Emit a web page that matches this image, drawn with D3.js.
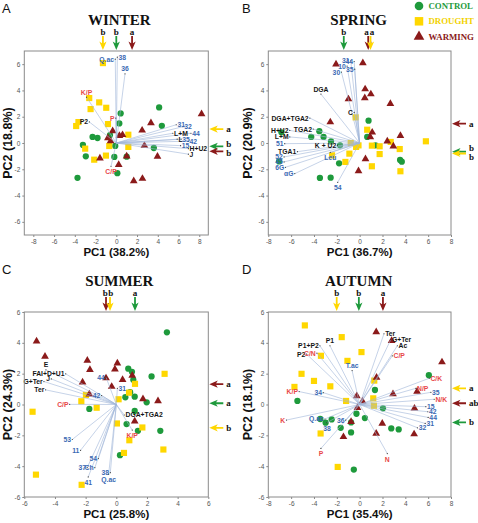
<!DOCTYPE html>
<html><head><meta charset="utf-8">
<script src="https://cdn.jsdelivr.net/npm/d3@7/dist/d3.min.js"></script>
<style>html,body{margin:0;padding:0;background:#fff}svg{display:block}</style>
</head><body><svg id="chart" width="478" height="523"></svg>
<script>
// ---------------- DATA ----------------
const seasons = ["WINTER", "SPRING", "SUMMER", "AUTUMN"];
const panelLetters = ["A", "B", "C", "D"];
const pc1Percent = [38.2, 36.7, 25.8, 35.4];
const pc2Percent = [18.8, 20.9, 24.3, 18.1];
const treatments = ["CONTROL", "DROUGHT", "WARMING"];
const ticksWide = [-8, -6, -4, -2, 0, 2, 4, 6, 8];
const ticksNarrow = [-6, -4, -2, 0, 2, 4, 6];

// WINTER scores [PC1, PC2]
const winterControl = [[0.42,2.25],[0.29,1.49],[-0.61,0.6],[-2.29,0.46],[-1.81,0.38],[-3.22,-0.15],[-0.1,-0.22],[-2.94,-1.01],[-0.19,-1.06],[1.0,-1.04],[0.1,-2.3],[-3.74,-2.65],[4.13,2.71],[4.39,1.31],[3.62,-0.38]];
const winterDrought = [[-1.29,6.08],[-2.61,3.42],[-1.65,3.09],[-2.48,2.58],[-0.97,2.68],[-3.65,1.59],[-3.87,1.29],[-0.8,1.44],[-3.0,-0.43],[-0.68,-0.23],[-1.0,-0.96],[-2.13,-1.27],[1.16,0.63],[1.16,-0.3]];
const winterWarming = [[-0.35,0.91],[0.3,0.55],[0.6,0.62],[-0.81,0.38],[-0.55,0.15],[-1.58,-1.16],[1.0,-1.01],[0.23,-1.65],[8.22,2.2],[3.34,1.52],[2.49,0.96],[2.71,-0.2],[3.97,-1.02],[1.68,-2.89],[2.52,-2.71]];
// SPRING scores
const springControl = [[0.78,1.7],[1.39,-0.18],[0.66,0.46],[-3.53,0.9],[-4.24,0.46],[-3.16,0.46],[-2.51,0.12],[-1.72,-0.18],[-1.8,-1.55],[-3.48,-2.66],[-2.54,-2.64],[-6.85,0.81],[-7.06,-1.4],[3.54,-1.29],[3.69,-1.42]];
const springDrought = [[-0.35,1.95],[0.66,1.01],[1.07,-0.2],[1.75,-0.25],[1.75,-0.84],[1.07,-1.77],[-0.1,-0.18],[-0.31,-0.3],[-0.78,0.0],[-0.9,-0.81],[-1.25,-1.44],[-2.42,-0.94],[3.51,-0.46],[3.57,-2.15],[2.72,0.08],[5.8,0.13]];
const springWarming = [[-2.07,6.0],[0.28,6.08],[0.48,4.1],[0.45,3.42],[0.98,3.72],[-0.98,3.34],[2.69,2.99],[-2.57,1.59],[1.1,0.81],[0.93,0.46],[3.57,0.56],[2.42,0.13],[2.95,-0.25],[0.51,-1.22],[-0.1,-2.13]];
// SUMMER scores
const summerControl = [[3.3,4.68],[0.78,2.32],[1.02,2.12],[1.11,1.6],[2.3,1.82],[1.2,0.51],[0.59,0.47],[1.98,0.14],[1.2,-0.42],[0.67,-1.27],[1.41,-1.71],[2.87,-1.71],[0.24,-3.29],[-1.76,-0.29],[0.9,0.8]];
const summerDrought = [[3.15,1.99],[1.22,1.34],[0.15,0.34],[-1.98,0.62],[-2.28,0.21],[-1.28,-0.21],[-5.46,-0.47],[0.04,-1.23],[1.7,-1.49],[0.85,-2.32],[0.5,-3.14],[3.07,-2.92],[-5.24,-4.55],[-2.26,-5.21],[0.83,0.77]];
const summerWarming = [[-5.2,4.1],[-4.65,3.12],[-1.89,2.86],[-1.72,2.25],[-2.2,1.45],[-1.76,0.66],[0.07,2.68],[-0.09,2.29],[-0.67,1.71],[-0.3,1.16],[0.41,1.6],[1.04,1.88],[1.74,0.36],[2.72,0.23],[1.2,-1.08]];
// AUTUMN scores
const autumnControl = [[-5.45,0.23],[1.34,0.94],[2.04,-0.25],[-0.28,-0.6],[0.46,-0.88],[-2.45,-0.97],[-2.98,-1.18],[-1.66,-1.51],[-0.75,-1.81],[-0.75,-1.16],[2.77,-1.55],[3.42,-1.62],[6.06,1.9],[-0.51,-4.22],[-3.45,-0.94]];
const autumnDrought = [[-4.8,5.13],[-1.57,4.37],[0.16,3.4],[-3.39,3.16],[-1.07,2.83],[-5.09,1.99],[-4.0,1.53],[-5.71,1.14],[-2.57,1.18],[-1.19,0.23],[1.28,1.55],[1.19,0.4],[1.25,-0.08],[-3.42,-1.88],[-1.92,-4.05]];
const autumnWarming = [[1.45,4.7],[2.8,4.13],[7.21,2.75],[1.48,1.75],[2.92,0.68],[5.03,0.84],[4.8,-0.25],[-0.25,0.55],[0.25,0.21],[-0.19,-0.21],[1.98,-1.23],[1.45,-1.88],[-1.42,-2.1],[-0.75,-1.12],[4.77,-1.92]];

// Loadings: [label, PC1, PC2, variable group]  (k = black, b = blue, r = red)
const winterVectors = [["Q.ac",-0.1,6.38,"b"],["38",0.1,6.53,"b"],["36",0.84,5.26,"b"],["K/P",-2.87,3.49,"r"],["P",-0.05,1.9,"r"],["P2",-2.6,1.6,"k"],["C/P",-0.51,-1.77,"r"],["31",5.78,1.39,"b"],["32",6.43,1.24,"b"],["L+M",5.45,0.74,"k"],["44",7.2,0.74,"b"],["L",5.87,0.29,"k"],["35",6.25,0.29,"b"],["42",6.95,0.14,"b"],["15",6.2,-0.2,"b"],["H+U2",6.95,-0.43,"k"],["J",6.95,-0.85,"k"]];
const springVectors = [["31",-0.78,6.25,"b"],["44",-0.48,6.2,"b"],["10",-1.1,5.85,"b"],["35",-0.43,5.62,"b"],["30",-1.6,5.4,"b"],["DGA",-3.39,3.72,"k"],["C",-0.48,2.33,"k"],["DGA+TGA2",-4.36,1.9,"k"],["H+U2",-6.12,0.96,"k"],["TGA2",-4.07,1.06,"k"],["L+M",-6.12,0.46,"k"],["51",-6.56,-0.05,"b"],["K + U2",-1.95,-0.18,"k"],["TGA1",-5.45,-0.66,"k"],["Leu",-2.57,-0.71,"b"],["52",-6.62,-1.06,"b"],["45",-6.62,-1.44,"b"],["6G",-6.5,-1.85,"b"],["αG",-5.68,-2.33,"b"],["54",-1.92,-2.99,"b"]];
const summerVectors = [["E",-4.59,2.25,"k"],["FAI+D+U1",-3.3,1.99,"k"],["J",-4.24,1.66,"k"],["G+Ter",-4.72,1.49,"k"],["Ter",-4.61,0.95,"k"],["C/P",-3.04,0.01,"r"],["42",-0.96,0.58,"b"],["44",-0.67,1.77,"b"],["31",0.07,1.05,"b"],["DGA+TGA2",0.52,-0.68,"k"],["K/P",1.04,-1.66,"r"],["53",-2.87,-2.27,"b"],["11",-2.33,-2.97,"b"],["37",-1.9,-4.1,"b"],["Ch",-1.4,-4.1,"b"],["54",-1.17,-3.51,"b"],["41",-1.83,-4.7,"b"],["38",-0.39,-4.42,"b"],["Q.ac",-0.5,-4.53,"b"]];
const autumnVectors = [["Ter",2.13,4.59,"k"],["G+Ter",2.72,4.2,"k"],["Ac",3.3,3.81,"k"],["C/P",2.86,3.16,"r"],["P1",-2.6,3.81,"k"],["P1+P2",-3.48,3.81,"k"],["P2",-4.65,3.27,"k"],["C/N",-3.74,3.33,"r"],["T.ac",-0.66,2.2,"b"],["C/K",6.09,1.7,"r"],["N/P",4.92,1.05,"r"],["35",6.24,0.79,"b"],["N/K",6.53,0.34,"r"],["15",5.8,-0.14,"b"],["42",5.97,-0.47,"b"],["44",6.0,-0.84,"b"],["31",5.74,-1.23,"b"],["32",5.06,-1.51,"b"],["K/P",-5.3,0.84,"r"],["34",-3.19,0.77,"b"],["K",-6.41,-1.01,"r"],["Q.ac",-3.04,-0.94,"b"],["38",-2.86,-1.18,"b"],["36",-1.22,-1.01,"b"],["P",-3.39,-2.85,"r"],["N",2.42,-3.18,"r"]];

// Group means on each axis: [treatment, mean score, significance letter]
const winterPC1Means = [["DROUGHT",-1.29,"b"],["CONTROL",0.0,"b"],["WARMING",1.52,"a"]];
const winterPC2Means = [["DROUGHT",1.06,"a"],["CONTROL",-0.25,"b"],["WARMING",-0.63,"b"]];
const springPC1Means = [["CONTROL",-1.39,"b"],["WARMING",0.75,"a"],["DROUGHT",0.95,"a"]];
const springPC2Means = [["WARMING",1.47,"a"],["CONTROL",-0.66,"b"],["DROUGHT",-0.8,"b"]];
const summerPC1Means = [["WARMING",-0.67,"b"],["DROUGHT",-0.41,"b"],["CONTROL",1.22,"a"]];
const summerPC2Means = [["WARMING",1.32,"a"],["CONTROL",0.08,"a"],["DROUGHT",-1.51,"b"]];
const autumnPC1Means = [["DROUGHT",-2.01,"b"],["CONTROL",-0.07,"b"],["WARMING",2.04,"a"]];
const autumnPC2Means = [["DROUGHT",1.05,"a"],["WARMING",0.08,"ab"],["CONTROL",-1.16,"b"]];

// ---------------- STYLE / LAYOUT ----------------
const treatColor = {CONTROL:"#1e9a3c", DROUGHT:"#ffd700", WARMING:"#8b1a1a"};
const legendTextColor = {CONTROL:"#1e9a3c", DROUGHT:"#f2d200", WARMING:"#8b1a1a"};
const labelColor = {k:"#151515", b:"#3a69b3", r:"#e84848"};
const symbolType = {CONTROL:d3.symbolCircle, DROUGHT:d3.symbolSquare, WARMING:d3.symbolTriangle};
const symbolSize = {CONTROL:31, DROUGHT:38, WARMING:26};
const SANS = "'Liberation Sans', Arial, sans-serif";
const SERIF = "'Liberation Serif', 'Times New Roman', serif";

// label placement overrides: a = above, b = below
const placeOverrides = [
  {"K/P":"a","36":"a","C/P":"b"},
  {"DGA":"a","Leu":"b","54":"b"},
  {"E":"a","K/P":"b","41":"b","Q.ac":"b"},
  {"P1":"a","T.ac":"a","38":"b","P":"b","N":"b"}
];

const panels = [
  {box:[24.3,51,184,184], xd:[-8.87,8.87], yd:[-7,7], xt:ticksWide, yt:ticksNarrow, col:0,
   groups:{CONTROL:winterControl, DROUGHT:winterDrought, WARMING:winterWarming}, vectors:winterVectors, top:winterPC1Means, right:winterPC2Means},
  {box:[268.3,51,182.7,184], xd:[-8,8], yd:[-7,7], xt:ticksWide, yt:ticksNarrow, col:1,
   groups:{CONTROL:springControl, DROUGHT:springDrought, WARMING:springWarming}, vectors:springVectors, top:springPC1Means, right:springPC2Means},
  {box:[24.3,312,184,185], xd:[-6,6], yd:[-6,6], xt:ticksNarrow, yt:ticksNarrow, col:0,
   groups:{CONTROL:summerControl, DROUGHT:summerDrought, WARMING:summerWarming}, vectors:summerVectors, top:summerPC1Means, right:summerPC2Means},
  {box:[268.3,312,182.7,185], xd:[-8,8], yd:[-6,6], xt:ticksWide, yt:ticksNarrow, col:1,
   groups:{CONTROL:autumnControl, DROUGHT:autumnDrought, WARMING:autumnWarming}, vectors:autumnVectors, top:autumnPC1Means, right:autumnPC2Means}
];

const svg = d3.select("#chart");
svg.append("rect").attr("width",478).attr("height",523).attr("fill","#fff");

// arrow pointing +y with tip at origin
const arrowD = "M-0.9,-14 L0.9,-14 L0.9,-6.8 L3.6,-8.5 L0,0 L-3.6,-8.5 L-0.9,-6.8 Z";

function spread(vals, gap){
  const idx = vals.map((v,i)=>i).sort((a,b)=>vals[a]-vals[b]);
  const out = vals.slice();
  for(let k=1;k<idx.length;k++){
    const a=idx[k-1], b=idx[k];
    const d = out[b]-out[a];
    if(d<gap){ const s=(gap-d)/2; out[a]-=s; out[b]+=s; }
  }
  return out;
}

panels.forEach((p,i)=>{
  const [L,T,Wd,Ht] = p.box;
  const x = d3.scaleLinear().domain(p.xd).range([L,L+Wd]);
  const y = d3.scaleLinear().domain(p.yd).range([T+Ht,T]);
  const g = svg.append("g");
  const colX = p.col*240;

  // axes
  const ax = g.append("g").attr("transform",`translate(0,${T+Ht})`)
    .call(d3.axisBottom(x).tickValues(p.xt).tickSize(2).tickPadding(2).tickFormat(d=>String(d)));
  const ay = g.append("g").attr("transform",`translate(${L},0)`)
    .call(d3.axisLeft(y).tickValues(p.yt).tickSize(2).tickPadding(2).tickFormat(d=>String(d)));
  [ax,ay].forEach(a=>{
    a.select(".domain").remove();
    a.selectAll("line").attr("stroke","#888");
    a.selectAll("text").attr("font-family",SANS).attr("font-size",6.5).attr("fill","#555");
  });

  // points
  ["CONTROL","DROUGHT","WARMING"].forEach(t=>{
    g.append("g").selectAll("path").data(p.groups[t]).join("path")
      .attr("d", d3.symbol().type(symbolType[t]).size(symbolSize[t]))
      .attr("transform", d=>`translate(${x(d[0])},${y(d[1])})`)
      .attr("fill", treatColor[t]);
  });

  // vectors
  const vg = g.append("g");
  vg.selectAll("line").data(p.vectors).join("line")
    .attr("x1",x(0)).attr("y1",y(0))
    .attr("x2",d=>x(d[1])).attr("y2",d=>y(d[2]))
    .attr("stroke","#9fb6d8").attr("stroke-width",0.6);
  vg.selectAll("circle").data(p.vectors).join("circle")
    .attr("cx",d=>x(d[1])).attr("cy",d=>y(d[2])).attr("r",0.6).attr("fill","#333");
  const ov = placeOverrides[i];
  vg.selectAll("text").data(p.vectors).join("text")
    .attr("x",d=>{ const pl=ov[d[0]]; if(pl) return x(d[1]); return x(d[1]) + (d[1]>=0?1.2:-1.2); })
    .attr("y",d=>{ const pl=ov[d[0]]; if(pl==="a") return y(d[2])-2.5; if(pl==="b") return y(d[2])+8; return y(d[2])+2.5; })
    .attr("text-anchor",d=>{ const pl=ov[d[0]]; if(pl) return "middle"; return d[1]>=0?"start":"end"; })
    .attr("font-family",SANS).attr("font-size",6.8).attr("font-weight","bold")
    .attr("fill",d=>labelColor[d[3]])
    .text(d=>d[0]);

  // frame
  g.append("rect").attr("x",L).attr("y",T).attr("width",Wd).attr("height",Ht)
    .attr("fill","none").attr("stroke","#8a8a8a").attr("stroke-width",1);

  // top mean arrows (PC1)
  p.top.forEach(m=>{
    g.append("path").attr("d",arrowD).attr("fill",treatColor[m[0]])
      .attr("transform",`translate(${x(m[1])},${T-1})`);
  });
  const topX = spread(p.top.map(m=>x(m[1])), 5.5);
  p.top.forEach((m,k)=>{
    g.append("text").attr("x",topX[k]).attr("y",T-16).attr("text-anchor","middle")
      .attr("font-family",SERIF).attr("font-weight","bold").attr("font-size",9).attr("fill","#111").text(m[2]);
  });
  // right mean arrows (PC2)
  p.right.forEach(m=>{
    g.append("path").attr("d",arrowD).attr("fill",treatColor[m[0]])
      .attr("transform",`translate(${L+Wd+1},${y(m[1])}) rotate(90)`);
  });
  const rightY = spread(p.right.map(m=>y(m[1])), 9);
  p.right.forEach((m,k)=>{
    g.append("text").attr("x",L+Wd+18).attr("y",rightY[k]+3)
      .attr("font-family",SERIF).attr("font-weight","bold").attr("font-size",9).attr("fill","#111").text(m[2]);
  });

  // titles
  g.append("text").attr("x",L+Wd/2+(p.col?-1:3)).attr("y",T-26).attr("text-anchor","middle")
    .attr("font-family",SERIF).attr("font-weight","bold").attr("font-size",15).attr("fill","#111")
    .text(seasons[i]);
  g.append("text").attr("x",colX+2).attr("y",T-38).attr("font-family",SANS).attr("font-size",13).attr("fill","#111")
    .text(panelLetters[i]);
  g.append("text").attr("x",L+Wd/2).attr("y",T+Ht+21).attr("text-anchor","middle")
    .attr("font-family",SANS).attr("font-weight","bold").attr("font-size",11.5).attr("fill","#111")
    .text(`PC1 (${pc1Percent[i]}%)`);
  g.append("text").attr("transform",`translate(${colX+12},${T+Ht/2}) rotate(-90)`).attr("text-anchor","middle")
    .attr("font-family",SANS).attr("font-weight","bold").attr("font-size",12.5).attr("fill","#111")
    .text(`PC2 (${pc2Percent[i]}%)`);
});

// legend
const lg = svg.append("g");
treatments.forEach((t,k)=>{
  const cy = 6 + k*15.3;
  lg.append("path").attr("d", d3.symbol().type(symbolType[t]).size(symbolSize[t]*1.9))
    .attr("transform",`translate(419,${cy})`).attr("fill",treatColor[t]);
  lg.append("text").attr("x",428.5).attr("y",cy+3).attr("font-family",SERIF).attr("font-weight","bold")
    .attr("font-size",8.8).attr("fill",legendTextColor[t]).text(t);
});
</script></body></html>
